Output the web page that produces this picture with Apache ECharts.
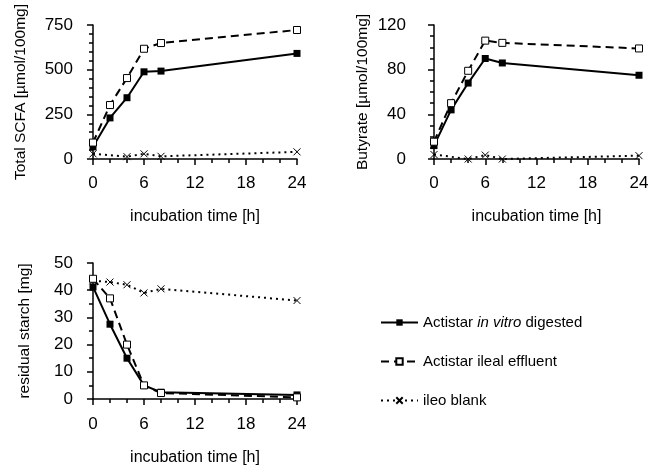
<!DOCTYPE html>
<html lang="en">
<head>
<meta charset="UTF-8">
<title>Actistar fermentation</title>
<script src="https://cdn.jsdelivr.net/npm/echarts@6.0.0/dist/echarts.min.js"></script>
<style>
  html, body { margin: 0; padding: 0; background: #fff; }
  #chart { width: 658px; height: 468px; }
</style>
</head>
<body>
<div id="chart"></div>
<script>
// incubation time points [h]
const hours = [0, 2, 4, 6, 8, 24]
const crossHours = [0, 4, 6, 8, 24]
const crossHoursStarch = [0, 2, 4, 6, 8, 24]

const seriesNames = ['Actistar in vitro digested', 'Actistar ileal effluent', 'ileo blank']

// total SCFA [µmol/100mg]
const scfaDigested = [68, 230, 343, 488, 492, 591]
const scfaEffluent = [92, 302, 453, 617, 649, 722]
const scfaBlank = [29, 13, 29, 15, 40]

// butyrate [µmol/100mg]
const butDigested = [12, 44, 68, 90, 86, 75]
const butEffluent = [15.5, 50, 79, 106, 104, 99]
const butBlank = [4, 0, 3.5, 0, 3]

// residual starch [mg]
const starchDigested = [41.2, 27.5, 15, 5, 2.5, 1.5]
const starchEffluent = [44.2, 37, 20, 5, 2.2, 0.6]
const starchBlank = [43.5, 43, 42, 39, 40.5, 36.2]

const font = 'Liberation Sans, Arial, sans-serif'
const crossPath = 'path://M0,0L10,10M10,0L0,10'

const pairs = (xs, ys) => xs.map((x, i) => [x, ys[i]])

const xAxisFor = (gridIndex, offset) => ({
  type: 'value',
  gridIndex,
  min: 0,
  max: 24,
  interval: 6,
  offset,
  name: 'incubation time [h]',
  nameLocation: 'middle',
  nameGap: 42,
  nameTextStyle: { fontFamily: font, fontSize: 16, color: '#000' },
  axisLine: { lineStyle: { color: '#000', width: 1.5 } },
  axisTick: { length: 6, lineStyle: { color: '#000', width: 1.5 } },
  minorTick: { show: true, splitNumber: 3, length: 4, lineStyle: { color: '#000', width: 1.5 } },
  axisLabel: { fontFamily: font, fontSize: 17, color: '#000', margin: 8 },
  splitLine: { show: false },
})

const yAxisFor = (gridIndex, max, interval, minorSplit, name, offset, nameGap) => ({
  type: 'value',
  gridIndex,
  min: 0,
  max,
  interval,
  offset,
  name,
  nameLocation: 'middle',
  nameGap,
  nameTextStyle: { fontFamily: font, fontSize: 15.5, color: '#000' },
  axisLine: { show: true, lineStyle: { color: '#000', width: 1.5 } },
  axisTick: { show: true, length: 6, lineStyle: { color: '#000', width: 1.5 } },
  minorTick: { show: true, splitNumber: minorSplit, length: 4, lineStyle: { color: '#000', width: 1.5 } },
  axisLabel: { fontFamily: font, fontSize: 17, color: '#000', margin: 7 },
  splitLine: { show: false },
})

const solidSeries = (idx, data) => ({
  name: seriesNames[0],
  type: 'line',
  xAxisIndex: idx,
  yAxisIndex: idx,
  data,
  clip: false,
  symbol: 'rect',
  symbolSize: 7,
  itemStyle: { color: '#000' },
  lineStyle: { color: '#000', width: 2 },
  z: 3,
})

const dashedSeries = (idx, data) => ({
  name: seriesNames[1],
  type: 'line',
  xAxisIndex: idx,
  yAxisIndex: idx,
  data,
  clip: false,
  symbol: 'rect',
  symbolSize: 7,
  itemStyle: { color: '#fff', borderColor: '#000', borderWidth: 1 },
  lineStyle: { color: '#000', width: 2, type: [8, 5] },
  z: 4,
})

const dottedSeries = (idx, data) => ({
  name: seriesNames[2],
  type: 'line',
  xAxisIndex: idx,
  yAxisIndex: idx,
  data,
  clip: false,
  symbol: crossPath,
  symbolSize: 7,
  itemStyle: { color: 'rgba(0,0,0,0)', borderColor: '#000', borderWidth: 1 },
  lineStyle: { color: '#000', width: 2, type: [2, 4] },
  z: 2,
})

const myChart = echarts.init(document.getElementById('chart'))

const option = {
  animation: false,
  backgroundColor: '#fff',
  grid: [
    { left: 93, top: 25, width: 204, height: 134 },
    { left: 434, top: 25, width: 205, height: 134 },
    { left: 93, top: 263, width: 204, height: 136 },
  ],
  xAxis: [xAxisFor(0, 8), xAxisFor(1, 8), xAxisFor(2, 9)],
  yAxis: [
    yAxisFor(0, 750, 250, 5, 'Total SCFA [µmol/100mg]', 13, 51),
    yAxisFor(1, 120, 40, 4, 'Butyrate [µmol/100mg]', 21, 42),
    yAxisFor(2, 50, 10, 2, 'residual starch [mg]', 13, 47),
  ],
  legend: {
    orient: 'vertical',
    left: 380,
    top: 315,
    padding: 0,
    itemGap: 24,
    itemWidth: 37,
    itemHeight: 8,
    data: seriesNames,
    textStyle: {
      fontFamily: font,
      fontSize: 15,
      color: '#000',
      rich: { i: { fontFamily: font, fontSize: 15, fontStyle: 'italic', color: '#000' } },
    },
    formatter: name => name === seriesNames[0] ? 'Actistar {i|in vitro} digested' : name,
  },
  series: [
    dottedSeries(0, pairs(crossHours, scfaBlank)),
    solidSeries(0, pairs(hours, scfaDigested)),
    dashedSeries(0, pairs(hours, scfaEffluent)),
    dottedSeries(1, pairs(crossHours, butBlank)),
    solidSeries(1, pairs(hours, butDigested)),
    dashedSeries(1, pairs(hours, butEffluent)),
    dottedSeries(2, pairs(crossHoursStarch, starchBlank)),
    solidSeries(2, pairs(hours, starchDigested)),
    dashedSeries(2, pairs(hours, starchEffluent)),
  ],
}

myChart.setOption(option)
</script>
</body>
</html>
